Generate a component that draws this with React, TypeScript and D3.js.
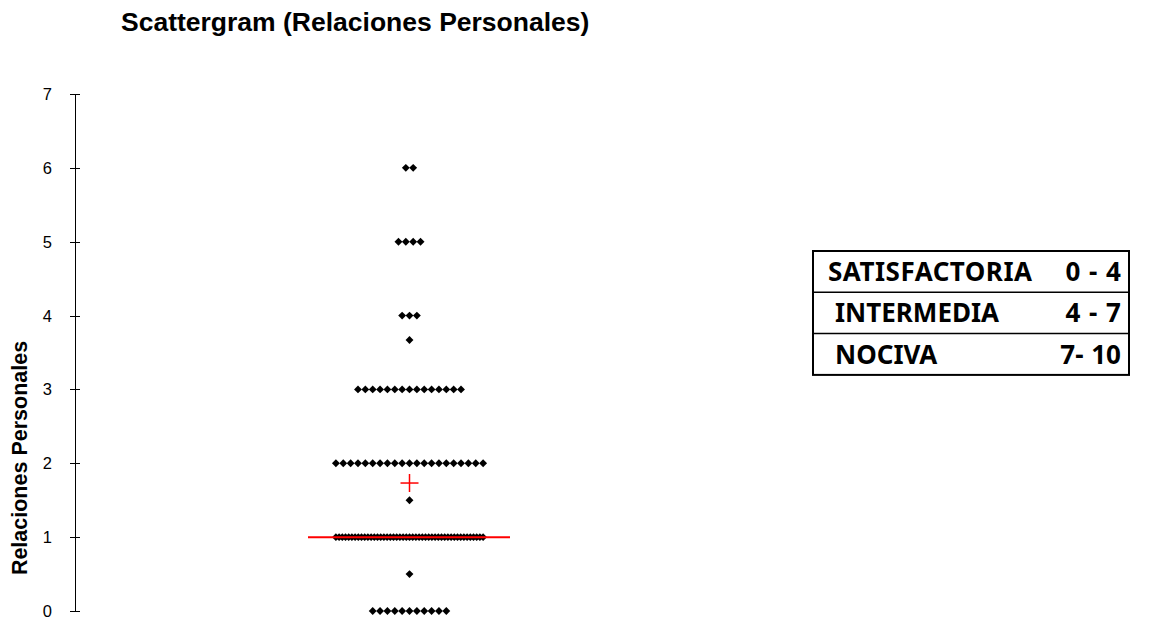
import React from 'react';
import * as d3 from 'd3';

// scores on the y axis and how many answers fell on each
const values = [0, 0.5, 1, 1.5, 2, 3, 3.67, 4, 5, 6];
const counts = [11, 1, 47, 1, 21, 15, 1, 3, 4, 2];
const yTicks = [0, 1, 2, 3, 4, 5, 6, 7];

const legendLabels = ['SATISFACTORIA', 'INTERMEDIA', 'NOCIVA'];
const legendRanges = ['0 - 4', '4 - 7', '7- 10'];

const title = 'Scattergram (Relaciones Personales)';
const yTitle = 'Relaciones Personales';

const width = 1151;
const height = 624;
const maxSlots = 21;
const slotW = 7.36;

const App = () => {
    const yScale = d3.scaleLinear().domain([0, 7]).range([611, 94]);
    const xScale = d3.scaleLinear()
        .domain([-(maxSlots - 1) / 2, (maxSlots - 1) / 2])
        .range([409.5 - (maxSlots - 1) / 2 * slotW, 409.5 + (maxSlots - 1) / 2 * slotW]);

    // spread each row symmetrically, squeezing rows wider than maxSlots
    const points: { x: number; y: number }[] = [];
    values.forEach((v, r) => {
        const c = counts[r];
        const step = c > maxSlots ? (maxSlots - 1) / (c - 1) : 1;
        for (let i = 0; i < c; i++) {
            points.push({ x: (i - (c - 1) / 2) * step, y: v });
        }
    });

    const all: number[] = [];
    values.forEach((v, r) => { for (let i = 0; i < counts[r]; i++) all.push(v); });
    const mean = d3.mean(all) as number;
    const median = d3.median(all) as number;

    const diamond = d3.symbol(d3.symbolSquare, 31)();

    const legendX = 813, legendY = 251, legendW = 316, rowH = 41.3;
    const labelX = [828, 835, 835];

    return (
        <svg width={width} height={height} style={{ position: 'absolute', left: 0, top: 0 }}
             fontFamily="'Liberation Sans', Arial, sans-serif">
            <rect width={width} height={height} fill="#fff" />
            <text x={121} y={31} fontSize={26.5} fontWeight="bold">{title}</text>

            {/* y axis */}
            <line x1={75.5} x2={75.5} y1={yScale(7)} y2={yScale(0)} stroke="#000" />
            {yTicks.map(t => (
                <g key={t} transform={`translate(0,${Math.round(yScale(t)) + 0.5})`}>
                    <line x1={70} x2={80} stroke="#000" />
                    <text x={52} dy="0.35em" textAnchor="end" fontSize={16.5}>{t}</text>
                </g>
            ))}
            <text transform={`translate(27,${458}) rotate(-90)`} textAnchor="middle"
                  fontSize={21.5} fontWeight="bold">{yTitle}</text>

            {/* points */}
            {points.map((p, i) => (
                <path key={i} d={diamond as string}
                      transform={`translate(${xScale(p.x)},${yScale(p.y)}) rotate(45)`} fill="#000" />
            ))}

            {/* median and mean */}
            <line x1={308} x2={510} y1={yScale(median)} y2={yScale(median)} stroke="#ff0000" strokeWidth={2} />
            <g transform={`translate(${xScale(0)},${yScale(mean)})`} stroke="#ff0000" strokeWidth={1.5}>
                <line x1={-9} x2={9} />
                <line y1={-9} y2={9} />
            </g>

            {/* legend table */}
            <g fontFamily="'Noto Sans', sans-serif" fontWeight="bold" fontSize={26}>
                <rect x={legendX} y={legendY} width={legendW} height={rowH * 3} fill="none" stroke="#000" strokeWidth={2} />
                {[1, 2].map(k => (
                    <line key={k} x1={legendX} x2={legendX + legendW} y1={legendY + rowH * k} y2={legendY + rowH * k}
                          stroke="#000" strokeWidth={1.5} />
                ))}
                {legendLabels.map((l, i) => (
                    <g key={l}>
                        <text x={labelX[i]} y={legendY + rowH * i + rowH / 2} dy="0.36em"
                              textLength={i === 0 ? 204 : undefined}>{l}</text>
                        <text x={1121} y={legendY + rowH * i + rowH / 2} dy="0.36em" textAnchor="end"
                              wordSpacing={i === 2 ? 1 : 2}>{legendRanges[i]}</text>
                    </g>
                ))}
            </g>
        </svg>
    );
};

export default App;
